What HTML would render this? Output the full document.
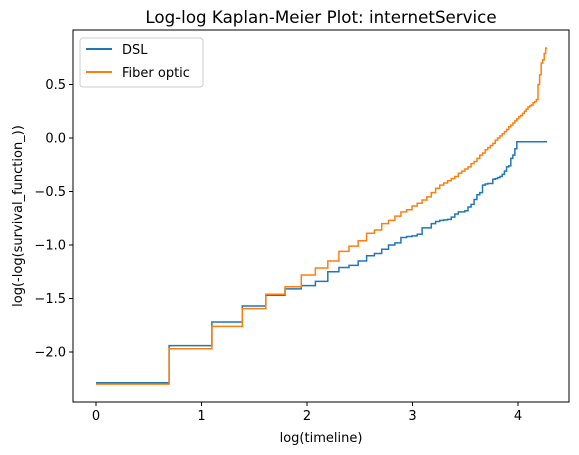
<!DOCTYPE html>
<html><head><meta charset="utf-8"><style>
body{margin:0;background:#fff;}
svg{display:block;font-family:"DejaVu Sans","Liberation Sans",sans-serif;}
</style></head><body>
<svg id="chart" width="579" height="455">
<rect width="579" height="455" fill="#fff"/>
<text x="321" y="23" font-size="16.7" text-anchor="middle">Log-log Kaplan-Meier Plot: internetService</text>
<g id="xticks"></g><g id="yticks"></g>
<g id="lines"></g>
<rect x="73" y="30" width="496" height="372" fill="none" stroke="#000" stroke-width="1"/>
<text x="321" y="442" font-size="13" text-anchor="middle">log(timeline)</text>
<text transform="translate(22,216) rotate(-90)" font-size="13" text-anchor="middle">log(-log(survival_function_))</text>
<g>
<rect x="80" y="38" width="123" height="49" rx="3" fill="#fff" stroke="#ccc"/>
<line x1="86" y1="49" x2="112" y2="49" stroke="#1f77b4" stroke-width="2"/>
<text x="122" y="54" font-size="13">DSL</text>
<line x1="86" y1="72" x2="112" y2="72" stroke="#ff7f0e" stroke-width="2"/>
<text x="122" y="77" font-size="13">Fiber optic</text>
</g>
</svg>
<script>
const times = Array.from({length:71},(_,i)=>i+1);
const endTime = 72;
const dslValues = [-2.287,-1.94,-1.72,-1.57,-1.47,-1.41,-1.38,-1.34,-1.25,-1.21,-1.19,-1.15,-1.10,-1.08,-1.04,-1.00,-0.98,-0.93,-0.92,-0.915,-0.90,-0.84,-0.84,-0.80,-0.78,-0.77,-0.765,-0.76,-0.74,-0.71,-0.69,-0.69,-0.68,-0.645,-0.62,-0.575,-0.53,-0.51,-0.44,-0.43,-0.425,-0.425,-0.385,-0.38,-0.37,-0.36,-0.34,-0.31,-0.27,-0.26,-0.19,-0.16,-0.10,-0.035,-0.035,-0.035,-0.035,-0.035,-0.035,-0.035,-0.035,-0.035,-0.035,-0.035,-0.035,-0.035,-0.035,-0.035,-0.035,-0.035,-0.035];
const fiberValues = [-2.30,-1.97,-1.76,-1.595,-1.46,-1.39,-1.28,-1.215,-1.15,-1.06,-1.01,-0.96,-0.89,-0.86,-0.80,-0.77,-0.73,-0.69,-0.67,-0.635,-0.61,-0.58,-0.55,-0.51,-0.47,-0.44,-0.42,-0.40,-0.38,-0.36,-0.33,-0.31,-0.29,-0.27,-0.24,-0.22,-0.19,-0.16,-0.14,-0.11,-0.09,-0.07,-0.05,-0.02,0.0,0.02,0.04,0.06,0.08,0.105,0.12,0.14,0.16,0.18,0.20,0.21,0.23,0.25,0.27,0.29,0.30,0.31,0.33,0.34,0.36,0.50,0.59,0.70,0.73,0.79,0.84];
const xTickValues = [0,1,2,3,4];
const yTickValues = [0.5,0.0,-0.5,-1.0,-1.5,-2.0];
const yTickLabels = ["0.5","0.0","−0.5","−1.0","−1.5","−2.0"];

const NS="http://www.w3.org/2000/svg";
const xs = v => 96 + 105.5*v;
const ys = v => 138 - 107*v;
function mk(tag, attrs, parent){const e=document.createElementNS(NS,tag);for(const k in attrs)e.setAttribute(k,attrs[k]);parent.appendChild(e);return e;}
const xg=document.getElementById('xticks'), yg=document.getElementById('yticks'), lg=document.getElementById('lines');
xTickValues.forEach(v=>{
  const l=mk('line',{x1:xs(v),x2:xs(v),y1:402,y2:406,stroke:'#000'},xg);
  
  
  const t=mk('text',{x:xs(v),y:420,'font-size':13,'text-anchor':'middle'},xg);
  t.textContent=String(v);
  
  
});
yTickValues.forEach((v,i)=>{
  const l=mk('line',{x1:69,x2:73,y1:ys(v),y2:ys(v),stroke:'#000'},yg);
  
  
  const t=mk('text',{x:66,y:ys(v)+4.5,'font-size':13,'text-anchor':'end'},yg);
  t.textContent=yTickLabels[i];
  
  
});
function stepPath(vals){
  let d='';
  for(let i=0;i<times.length;i++){
    const x0=xs(Math.log(times[i])), x1=xs(Math.log(i+1<times.length?times[i+1]:endTime));
    const y=ys(vals[i]);
    d += (i===0?'M':'L')+x0.toFixed(2)+','+y.toFixed(2)+'L'+x1.toFixed(2)+','+y.toFixed(2);
  }
  return d;
}
const p1=mk('path',{d:stepPath(dslValues),fill:'none',stroke:'#1f77b4','stroke-width':1.5},lg);


const p2=mk('path',{d:stepPath(fiberValues),fill:'none',stroke:'#ff7f0e','stroke-width':1.5},lg);


</script>
</body></html>
